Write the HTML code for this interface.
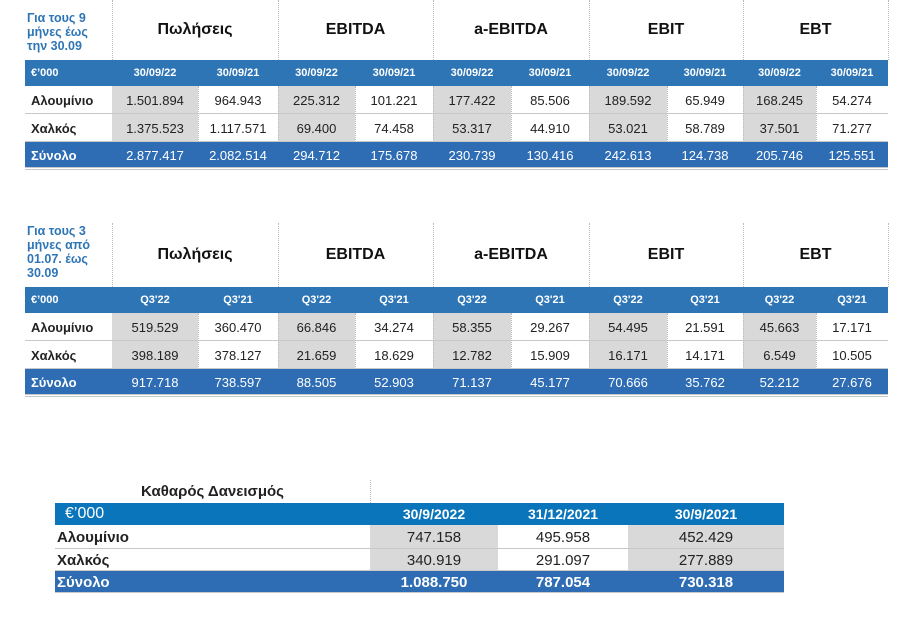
<!DOCTYPE html>
<html><head><meta charset="utf-8">
<style>
body{margin:0;width:910px;height:640px;background:#fff;font-family:"Liberation Sans",Arial,sans-serif;position:relative;overflow:hidden}
.c{position:absolute;box-sizing:border-box;display:flex;align-items:center;justify-content:center;font-size:13px;color:#222;white-space:nowrap}
.hd{background:#2E75B6;color:#fff;font-weight:bold;font-size:11px}
.tot{background:#2E6DB4;color:#fff}
.g{background:#D9D9D9}
.lab{justify-content:flex-start;padding-left:6px;font-weight:bold}
.grp{font-weight:bold;font-size:16px;color:#111}
.ttl{position:absolute;color:#2E75B6;font-weight:bold;font-size:12.5px;line-height:14px}
.vl{position:absolute;border-left:1px dotted #bbb}
.hl{position:absolute;height:1px;background:#c8c8c8}
</style></head><body>
<div class="ttl" style="left:27px;top:11px">Για τους 9<br>μήνες έως<br>την 30.09</div>
<div class="ttl" style="left:27px;top:224px">Για τους 3<br>μήνες από<br>01.07. έως<br>30.09</div>
<script>
const groups=["Πωλήσεις","EBITDA","a-EBITDA","EBIT","EBT"];
const rows=["Αλουμίνιο","Χαλκός","Σύνολο"];
const t1cols=["30/09/22","30/09/21"];
const t1v=[["1.501.894","964.943","225.312","101.221","177.422","85.506","189.592","65.949","168.245","54.274"],
["1.375.523","1.117.571","69.400","74.458","53.317","44.910","53.021","58.789","37.501","71.277"],
["2.877.417","2.082.514","294.712","175.678","230.739","130.416","242.613","124.738","205.746","125.551"]];
const t2cols=["Q3'22","Q3'21"];
const t2v=[["519.529","360.470","66.846","34.274","58.355","29.267","54.495","21.591","45.663","17.171"],
["398.189","378.127","21.659","18.629","12.782","15.909","16.171","14.171","6.549","10.505"],
["917.718","738.597","88.505","52.903","71.137","45.177","70.666","35.762","52.212","27.676"]];
const t3cols=["30/9/2022","31/12/2021","30/9/2021"];
const t3v=[["747.158","495.958","452.429"],["340.919","291.097","277.889"],["1.088.750","787.054","730.318"]];
const xs=[112,198,278,355,433,511,589,667,743,816,888];
function cell(x,y,w,h,cls,txt,name){const d=document.createElement('div');d.className='c '+cls;d.style.cssText=`left:${x}px;top:${y}px;width:${w}px;height:${h}px`;d.textContent=txt;


document.body.appendChild(d);return d;}
function line(cls,x,y,w,h){const d=document.createElement('div');d.className=cls;d.style.cssText=`left:${x}px;top:${y}px;width:${w}px;height:${h}px`;


document.body.appendChild(d);}
function big(top,hh,cols,vals,tag){
 const hy=top+hh, ry=[hy+26,hy+54,hy+82], rh=[28,28,26];
 for(let g=0;g<5;g++){cell(xs[2*g],top,xs[2*g+2]-xs[2*g],hh,'grp',groups[g],tag+'-group-header');line('vl',xs[2*g],top,0,hh);}
 line('vl',888,top,0,hh);
 cell(25,hy,87,26,'hd lab','€’000',tag+'-unit-header');
 for(let i=0;i<10;i++)cell(xs[i],hy,xs[i+1]-xs[i],26,'hd',cols[i%2],tag+'-column-header');
 for(let r=0;r<3;r++){
  const tot=r==2;
  cell(25,ry[r],87,rh[r],(tot?'tot ':'')+'lab',rows[r],tag+'-row-label');
  for(let i=0;i<10;i++)cell(xs[i],ry[r],xs[i+1]-xs[i],rh[r],tot?'tot':(i%2==0?'g':''),vals[r][i],tag+'-value-cell');
  line('hl',25,ry[r]+rh[r]-1,863,1);
 }
 for(let i=1;i<10;i++)line('vl',xs[i],ry[0],0,54);
 line('hl',25,ry[2]+27,863,1);
}
big(0,60,t1cols,t1v,'nine-month');
big(223,64,t2cols,t2v,'quarter');
cell(55,480,315,23,'','Καθαρός Δανεισμός','net-debt-title').style.cssText+=';font-weight:bold;font-size:15px';
line('vl',370,480,0,23);
const x3=[370,498,628,784];
cell(55,503,315,22,'hd','€’000','net-debt-unit-header').style.cssText+=';justify-content:flex-start;padding-left:10px;font-weight:normal;font-size:16px;background:#0A75BA';
for(let i=0;i<3;i++){const c=cell(x3[i],503,x3[i+1]-x3[i],22,'hd',t3cols[i],'net-debt-column-header');c.style.fontSize='14px';c.style.background='#0A75BA';}
const y3=[525,549,571],h3=[24,22,22];
for(let r=0;r<3;r++){const tot=r==2;
 const l=cell(55,y3[r],315,h3[r],(tot?'tot ':'')+'lab',rows[r],'net-debt-row-label');l.style.fontSize='15px';l.style.paddingLeft='2px';
 for(let i=0;i<3;i++){const c=cell(x3[i],y3[r],x3[i+1]-x3[i],h3[r],tot?'tot':(i!=1?'g':''),t3v[r][i],'net-debt-value-cell');c.style.fontSize='15px';if(tot)c.style.fontWeight='bold';}
 line('hl',55,y3[r]+h3[r]-1,729,1);
}
</script>
</body></html>
